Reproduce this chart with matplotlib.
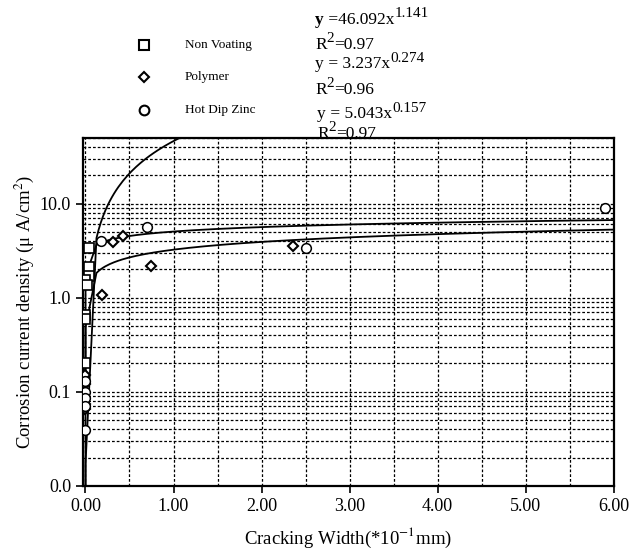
import numpy as np
import matplotlib
matplotlib.use('Agg')
import matplotlib.pyplot as plt
from matplotlib.lines import Line2D
from matplotlib.ticker import FixedLocator, MultipleLocator, FuncFormatter, LogLocator

plt.rcParams['font.family'] = ['Liberation Serif', 'DejaVu Serif']
plt.rcParams['mathtext.fontset'] = 'stix'

# Data
series_names = ['Non Voating', 'Polymer', 'Hot Dip Zinc']

nv_x = [0.04, 0.045, 0.035, 0.0, 0.02, 0.0, -0.01, 0.0]
nv_y = [3.4, 2.1, 1.7, 1.55, 1.35, 0.65, 0.6, 0.2]

pol_x = [0.19, 0.31, 0.43, 0.75, 2.36, 0.0, 0.0, 0.0, 0.0]
pol_y = [1.07, 3.9, 4.5, 2.17, 3.55, 0.15, 0.12, 0.075, 0.065]

hd_x = [0.18, 0.70, 2.51, 5.9, 0.0, 0.0, 0.0, 0.0, 0.0]
hd_y = [4.0, 5.65, 3.38, 9.0, 0.13, 0.1, 0.085, 0.07, 0.039]

# power fits y = a * x^b from the equations on the chart
fit_a = [46.092, 3.237, 5.043]
fit_b = [1.141, 0.274, 0.157]
fit_r2 = ['0.97', '0.96', '0.97']

fig = plt.figure(figsize=(6.42, 5.51), dpi=100)
ax = fig.add_axes([0.129, 0.118, 0.827, 0.632])

xs = np.concatenate([[1e-12, 1e-3], np.arange(0.125, 6.001, 0.025)])
for a, b in zip(fit_a, fit_b):
    ax.plot(xs, a * xs ** b, color='black', lw=1.3, zorder=3)

ax.plot(nv_x, nv_y, ls='none', marker='s', ms=6.5, mfc='white', mec='black', mew=1.2, zorder=4)
ax.plot(pol_x, pol_y, ls='none', marker='D', ms=5, mfc='white', mec='black', mew=1.5, zorder=4)
ax.plot(hd_x, hd_y, ls='none', marker='o', ms=7, mfc='white', mec='black', mew=1.1, zorder=4)

ax.set_yscale('log')
ax.set_xlim(-0.03, 6.0)
ax.set_ylim(0.01, 50)

ax.xaxis.set_major_locator(MultipleLocator(1.0))
ax.xaxis.set_minor_locator(MultipleLocator(0.5))
ax.xaxis.set_major_formatter(FuncFormatter(lambda v, p: '%.2f' % v))
ax.yaxis.set_major_locator(FixedLocator([0.01, 0.1, 1, 10]))
ax.yaxis.set_minor_locator(LogLocator(base=10, subs=np.arange(2, 10)))
ax.yaxis.set_major_formatter(FuncFormatter(lambda v, p: '%.1f' % v))
ax.yaxis.set_minor_formatter(FuncFormatter(lambda v, p: ''))

grid_style = dict(color='black', ls=(0, (2.2, 1.6)), lw=0.9)
ax.grid(True, which='both', axis='y', **grid_style)
ax.grid(True, which='both', axis='x', **grid_style)

ax.tick_params(which='major', direction='out', length=5, width=1.2, labelsize=13)
ax.tick_params(which='minor', length=0)
for s in ax.spines.values():
    s.set_linewidth(1.6)

ax.set_xlabel('Cracking Width(*10$^{-1}$mm)', fontsize=13.5, labelpad=8)
ax.set_ylabel('Corrosion current density (μ A/cm$^2$)', fontsize=13.5, labelpad=3)

# legend drawn above the axes
markers = ['s', 'D', 'o']
msizes = [7, 5, 7]
row_y = [0.918, 0.860, 0.800]
for name, m, ms, y in zip(series_names, markers, msizes, row_y):
    fig.add_artist(Line2D([0.224], [y], transform=fig.transFigure, marker=m, ms=ms,
                          mfc='white', mec='black', mew=1.5, ls='none'))
    fig.text(0.288, y, name, fontsize=9.5, va='center', ha='left')

# fit equations: "y", then the rest, then the exponent raised after it
eq_x = [0.491, 0.491, 0.494]
eq_y = [0.957, 0.877, 0.786]
r2_y = [0.918, 0.837, 0.756]
eq_rest = [' =%.3fx', ' = %.3fx', ' = %.3fx']
for i in range(3):
    yt = fig.text(eq_x[i], eq_y[i], 'y', fontsize=12.5, va='baseline', ha='left',
                  fontweight='bold' if i == 0 else 'normal')
    t = ax.annotate(eq_rest[i] % fit_a[i], xy=(1.0, 0.0), xycoords=yt, fontsize=12.5,
                    va='bottom', ha='left', annotation_clip=False)
    ax.annotate('%.3f' % fit_b[i], xy=(1.0, 0.45), xycoords=t, fontsize=11,
                va='bottom', ha='left', annotation_clip=False)
    r = fig.text(eq_x[i], r2_y[i], 'R', fontsize=12.5, va='center', ha='left')
    s2 = ax.annotate('2', xy=(1.0, 0.5), xycoords=r, fontsize=11, va='bottom', ha='left',
                     annotation_clip=False)
    ax.annotate('=' + fit_r2[i], xy=(1.0, 0.0), xycoords=(s2, r), fontsize=12.5,
                va='bottom', ha='left', annotation_clip=False)

fig.savefig('out.png', dpi=100)
